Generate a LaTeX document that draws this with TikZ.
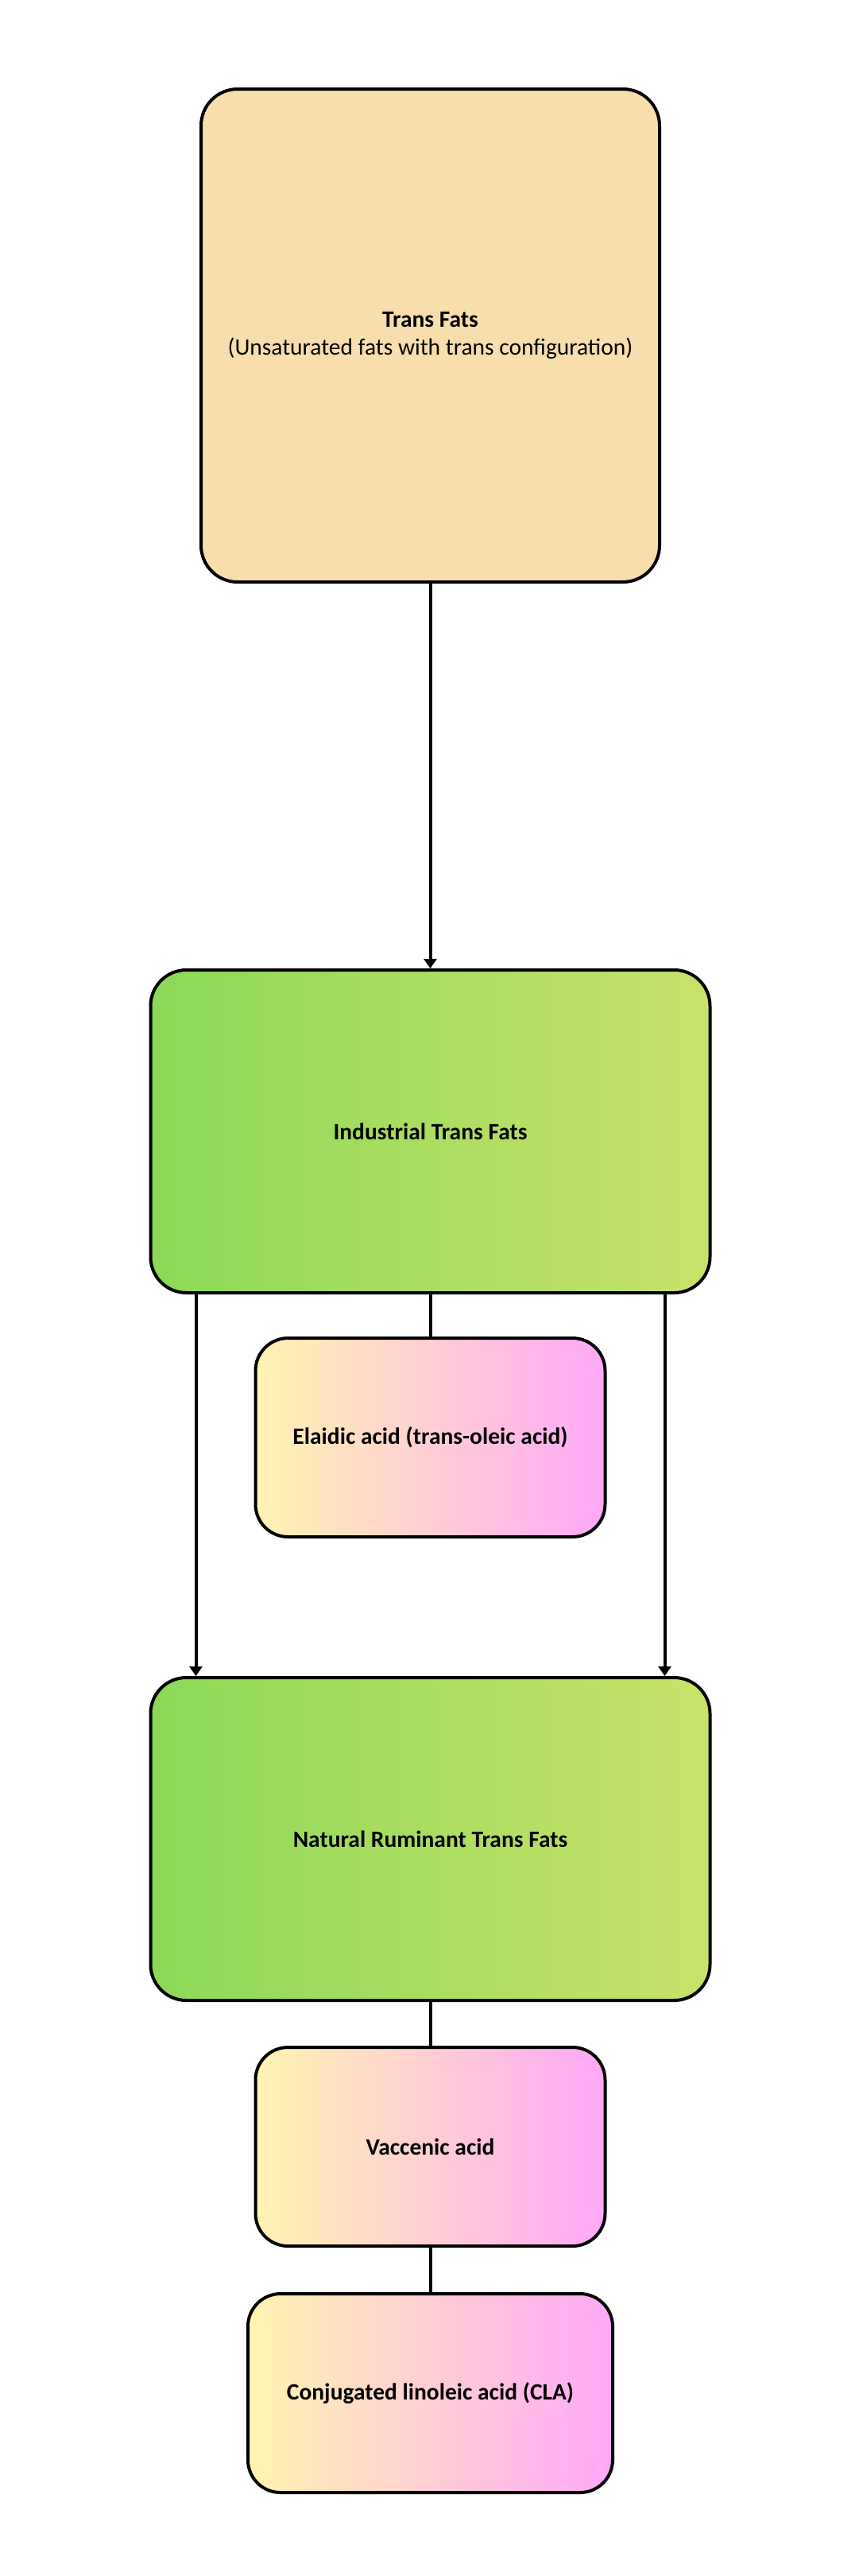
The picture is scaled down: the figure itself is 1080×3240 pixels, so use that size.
\documentclass[tikz,border=0pt]{standalone}
\usepackage{fontspec}
\setmainfont{Carlito}
\usepackage{tikz}
\usetikzlibrary{arrows.meta,positioning,shapes}
\definecolor{topfill}{HTML}{F8DEAD}
\definecolor{greenL}{HTML}{8CD957}
\definecolor{greenR}{HTML}{C8E26A}
\definecolor{pinkL}{HTML}{FFF4B0}
\definecolor{pinkR}{HTML}{FFA8F8}
\begin{document}
\begin{tikzpicture}[x=1pt,y=1pt,>={Triangle[length=12pt,width=16pt]},line width=4pt,
        every node/.style={font=\fontsize{29.5}{35.5}\selectfont,inner sep=0pt},
        topbox/.style={draw=black,rounded corners=46pt,fill=topfill,minimum width=577pt,minimum height=620pt,align=center},
        fatbox/.style={draw=black,rounded corners=45pt,left color=greenL,right color=greenR,minimum width=704pt,minimum height=406pt,font=\fontsize{29.5}{35.5}\selectfont\bfseries},
        acidbox/.style={draw=black,rounded corners=41pt,left color=pinkL,right color=pinkR,minimum width=440pt,minimum height=250pt,font=\fontsize{29.5}{35.5}\selectfont\bfseries}]
        \useasboundingbox (0,0) rectangle (1080,-3240);
        \node[topbox] (trans) at (541.5,-422) {\textbf{Trans Fats}\\(Unsaturated fats with trans configuration)};
        \node[fatbox] (industrial) [below=484pt of trans] {Industrial Trans Fats};
        \node[acidbox] (elaidic) [below=53pt of industrial] {Elaidic acid (trans-oleic acid)};
        \node[fatbox] (natural) [below=173pt of elaidic] {Natural Ruminant Trans Fats};
        \node[acidbox] (vaccenic) [below=55pt of natural] {Vaccenic acid};
        \node[acidbox,minimum width=459pt] (cla) [below=56pt of vaccenic] {Conjugated linoleic acid (CLA)};
        \draw[->] (trans) -- (industrial);
        \draw (industrial) -- (elaidic);
        \draw[->] ([xshift=-295pt]industrial.south) -- ([xshift=-295pt]natural.north);
        \draw[->] ([xshift=295pt]industrial.south) -- ([xshift=295pt]natural.north);
        \draw (natural) -- (vaccenic);
        \draw (vaccenic) -- (cla);
      \end{tikzpicture}
\end{document}
